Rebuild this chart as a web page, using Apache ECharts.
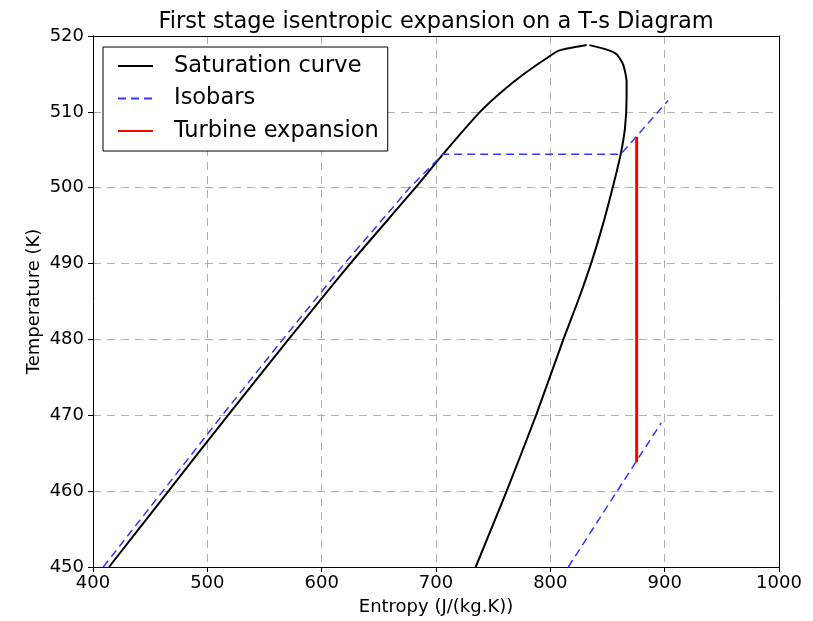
<!DOCTYPE html>
<html>
<head>
<meta charset="utf-8">
<script src="https://cdn.jsdelivr.net/npm/echarts@6/dist/echarts.min.js"></script>
<style>
  html, body { margin: 0; padding: 0; background: #fff; }
  #chart { width: 813px; height: 621px; }
</style>
</head>
<body>
<div id="chart"></div>
<script>
// saturation dome, liquid side (entropy J/(kg.K), temperature K)
var liqS = [414, 466, 518, 571, 625, 682, 706, 738.5, 757, 776, 800, 808, 831.8];
var liqT = [450, 460, 470, 480, 490, 500, 504.4, 510, 512.6, 514.9, 517.4, 518.1, 518.8];
// saturation dome, vapour side
var vapS = [834.1, 849.3, 858, 863.8, 866.7, 866.7, 865.3, 861.5, 854.5, 845.7, 835.6, 824, 811.4, 787.5, 761.8, 734.7];
var vapT = [518.8, 518.2, 517.6, 516.2, 514.0, 511.9, 507.9, 504.4, 500, 495, 490, 485, 480, 470, 460, 450];
// high pressure isobar
var hiS = [409, 461, 513, 566, 620, 677, 706, 861.5, 903];
var hiT = [450, 460, 470, 480, 490, 500, 504.4, 504.4, 511.5];
// low pressure isobar
var loS = [815.7, 875.5, 897];
var loT = [450, 464, 469];
// isentropic expansion
var turbS = [875.5, 875.5];
var turbT = [506.7, 463.8];

var xTicks = [400, 1000, 100];
var yTicks = [450, 520, 10];

function pairs(xs, ys) {
  var out = [];
  for (var i = 0; i < xs.length; i++) out.push([xs[i], ys[i]]);
  return out;
}

var font = 'DejaVu Sans';
var grey = '#b0b0b0';
var chart = echarts.init(document.getElementById('chart'));

function frameAxis(pos, isX) {
  var ax = {
    type: 'value', position: pos,
    axisLine: { show: true, onZero: false, lineStyle: { color: '#000', width: 1 } },
    axisTick: { show: false }, axisLabel: { show: false }, splitLine: { show: false }
  };
  if (isX) { ax.min = xTicks[0]; ax.max = xTicks[1]; }
  else { ax.min = yTicks[0]; ax.max = yTicks[1]; }
  return ax;
}

var option = {
  animation: false,
  backgroundColor: '#fff',
  textStyle: { fontFamily: font, color: '#000' },
  title: {
    text: 'First stage isentropic expansion on a T-s Diagram',
    left: 431,
    textAlign: 'center',
    top: 6,
    textStyle: { fontFamily: font, fontSize: 22.5, fontWeight: 'normal', color: '#000' }
  },
  grid: { left: 93, right: 34, top: 36, bottom: 53 },
  legend: {
    left: 103, top: 47,
    orient: 'vertical',
    backgroundColor: '#fff',
    borderColor: '#000', borderWidth: 1, borderRadius: 0,
    padding: [7, 9, 8, 14],
    itemWidth: 35, itemHeight: 14, itemGap: 8.5,
    itemStyle: { opacity: 0 },
    data: ['Saturation curve', 'Isobars', 'Turbine expansion'],
    textStyle: { fontFamily: font, fontSize: 22.5, color: '#000', lineHeight: 24, padding: [0, 0, 0, 16] }
  },
  xAxis: [{
    type: 'value',
    min: xTicks[0], max: xTicks[1], interval: xTicks[2],
    name: 'Entropy (J/(kg.K))',
    nameLocation: 'middle', nameGap: 31,
    nameTextStyle: { fontFamily: font, fontSize: 18, color: '#000' },
    axisLine: { show: true, lineStyle: { color: '#000', width: 1 } },
    axisTick: { show: true, length: 5, lineStyle: { color: '#000' } },
    axisLabel: { fontFamily: font, fontSize: 18, color: '#000', margin: 7,
      formatter: function (v) { return String(v); } },
    splitLine: { show: true, lineStyle: { color: grey, type: [8, 6], width: 1 } }
  }, frameAxis('top', true)],
  yAxis: [{
    type: 'value',
    min: yTicks[0], max: yTicks[1], interval: yTicks[2],
    name: 'Temperature (K)',
    nameLocation: 'middle', nameGap: 50, nameRotate: 90,
    nameMoveOverlap: false,
    nameTextStyle: { fontFamily: font, fontSize: 18, color: '#000' },
    axisLine: { show: true, lineStyle: { color: '#000', width: 1 } },
    axisTick: { show: true, length: 5, lineStyle: { color: '#000' } },
    axisLabel: { fontFamily: font, fontSize: 18, color: '#000', margin: 9 },
    splitLine: { show: true, lineStyle: { color: grey, type: [8, 6], width: 1 } }
  }, frameAxis('right', false)],
  series: [
    {
      name: 'Saturation curve', type: 'line', data: pairs(liqS, liqT),
      symbol: 'none', smooth: 0.2, clip: true,
      lineStyle: { color: '#000', width: 2 }, itemStyle: { color: '#000' }
    },
    {
      name: 'Saturation curve', type: 'line', data: pairs(vapS, vapT),
      symbol: 'none', smooth: 0.2, clip: true,
      lineStyle: { color: '#000', width: 2 }, itemStyle: { color: '#000' }
    },
    {
      name: 'Isobars', type: 'line', data: pairs(hiS, hiT),
      symbol: 'none', clip: true,
      lineStyle: { color: '#3535ff', width: 1.5, type: [8, 5] }, itemStyle: { color: '#3535ff' }
    },
    {
      name: 'Isobars', type: 'line', data: pairs(loS, loT),
      symbol: 'none', clip: true,
      lineStyle: { color: '#3535ff', width: 1.5, type: [8, 5] }, itemStyle: { color: '#3535ff' }
    },
    {
      name: 'Turbine expansion', type: 'line', data: pairs(turbS, turbT),
      symbol: 'none', clip: true,
      lineStyle: { color: '#ff0000', width: 3 }, itemStyle: { color: '#ff0000' }
    }
  ]
};
chart.setOption(option);
</script>
</body>
</html>
